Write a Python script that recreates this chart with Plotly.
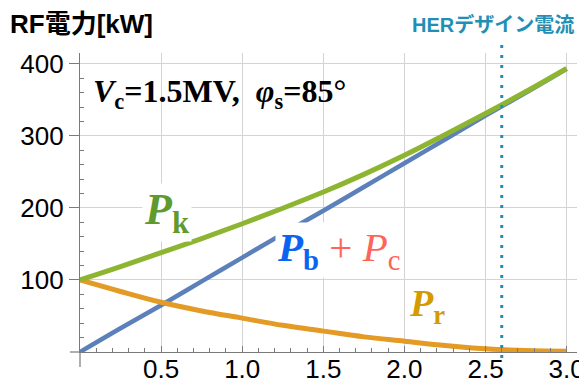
import plotly.graph_objects as go

# Beam current [A]
current = [0, 0.25, 0.5, 0.75, 1.0, 1.25, 1.5, 1.75, 2.0, 2.25, 2.5, 2.75, 3.0]
# P_b + P_c [kW]
p_bc = [0, 33, 65, 98, 131, 164, 196, 229, 262, 295, 328, 360, 393]
# P_r [kW]
p_r = [100, 84, 69, 57, 47, 37, 29, 21, 15, 9, 4.5, 2, 1]
# P_k [kW]
p_k = [100, 118.5, 138, 157.5, 178, 199.5, 222, 246.5, 273, 301.5, 331, 361.5, 393.5]
her_design_current = 2.6

x_ticks = [0.5, 1.0, 1.5, 2.0, 2.5, 3.0]
x_tick_labels = ["0.5", "1.0", "1.5", "2.0", "2.5", "3.0"]
y_ticks = [100, 200, 300, 400]
y_tick_labels = ["100", "200", "300", "400"]

BLUE = "#5b80ba"
ORANGE = "#e39b26"
GREEN = "#8db531"
AXIS = "#7a7a7a"
GRID = "#d3d3d3"
TEAL = "#1f8fb5"

fig = go.Figure()
fig.add_trace(go.Scatter(x=current, y=p_bc, mode="lines", line=dict(color=BLUE, width=4.5, shape="spline")))
fig.add_trace(go.Scatter(x=current, y=p_r, mode="lines", line=dict(color=ORANGE, width=5, shape="spline")))
fig.add_trace(go.Scatter(x=current, y=p_k, mode="lines", line=dict(color=GREEN, width=5, shape="spline")))

OFF = 8  # page body margin
W, H = 587 - OFF, 388 - OFF
L, R, T, B = 80 - OFF, 10, 53 - OFF, 36
pw, ph = W - L - R, H - T - B

def px(xp):
    return (xp - OFF - L) / pw

def py(yp):
    return (H - B - (yp - OFF)) / ph

fig.update_layout(
    width=W, height=H,
    margin=dict(l=L, r=R, t=T, b=B, autoexpand=False),
    paper_bgcolor="white", plot_bgcolor="white",
    showlegend=False,
    font=dict(family="Liberation Sans, Arial, sans-serif", size=25, color="black"),
)
fig.update_xaxes(
    range=[0, 3.064], tickmode="array", tickvals=x_ticks, ticktext=x_tick_labels,
    automargin=False,
    showgrid=True, gridcolor=GRID, gridwidth=1, zeroline=False,
    showline=True, linecolor=AXIS, linewidth=1.2,
    ticks="inside", ticklen=6, tickcolor=AXIS, tickwidth=1.2,
    ticklabelstandoff=-6,
    minor=dict(tickmode="array", tickvals=[i / 10 for i in range(1, 31) if i % 5],
               ticks="inside", ticklen=4, tickcolor=AXIS, showgrid=False),
    tickfont=dict(size=26),
)
fig.update_yaxes(
    range=[0, 415], tickmode="array", tickvals=y_ticks, ticktext=y_tick_labels,
    automargin=False,
    showgrid=True, gridcolor=GRID, gridwidth=1, zeroline=False,
    showline=True, linecolor=AXIS, linewidth=1.2,
    ticks="outside", ticklen=10, tickcolor=AXIS, tickwidth=1.2,
    minor=dict(tickmode="array", tickvals=[i * 20 for i in range(1, 21) if i % 5],
               ticks="inside", ticklen=4, tickcolor=AXIS, showgrid=False),
    tickfont=dict(size=26),
)

# axis extensions beyond the origin
fig.add_shape(type="line", xref="paper", yref="paper", x0=0, x1=0, y0=0, y1=py(367),
              line=dict(color=AXIS, width=1.2))
fig.add_shape(type="line", xref="paper", yref="paper", x0=px(70), x1=0, y0=0, y1=0,
              line=dict(color=AXIS, width=1.2))

# HER design current dotted line
fig.add_shape(type="line", xref="x", yref="paper", x0=her_design_current, x1=her_design_current,
              y0=py(358), y1=py(42), line=dict(color=TEAL, width=3, dash="3px,7px"))

fig.add_annotation(xref="paper", yref="paper", x=px(8), y=py(24), xanchor="left", yanchor="middle",
                   text="<b>RF電力[kW]</b>", showarrow=False,
                   font=dict(family="Liberation Sans, Noto Sans CJK JP", size=26, color="black"))
fig.add_annotation(xref="paper", yref="paper", x=px(493), y=py(24), xanchor="center", yanchor="middle",
                   text="<b>HERデザイン電流</b>", showarrow=False,
                   font=dict(family="Liberation Sans, Noto Sans CJK JP", size=20, color=TEAL))

fig.add_annotation(xref="paper", yref="paper", x=px(91), y=py(93), xanchor="left", yanchor="middle",
                   text="<b><i>V</i><sub>c</sub>=1.5MV,\u00a0\u00a0<i>φ</i><sub>s</sub>=85°</b>",
                   showarrow=False,
                   font=dict(family="Liberation Serif, Times New Roman, serif", size=32, color="black"))

fig.add_annotation(xref="paper", yref="paper", x=px(167), y=py(212), xanchor="center", yanchor="middle",
                   text="<b><i>P</i><sub>k</sub></b>", showarrow=False, bgcolor="white",
                   font=dict(family="Liberation Serif, Times New Roman, serif", size=44, color="#5f9a2e"))
fig.add_annotation(xref="paper", yref="paper", x=px(338), y=py(250), xanchor="center", yanchor="middle",
                   text="<span style='color:#0a64f0'><b><i>P</i><sub>b</sub></b></span>"
                        "<span style='color:#ff6459'> + <i>P</i><sub>c</sub></span>",
                   showarrow=False, bgcolor="white",
                   font=dict(family="Liberation Serif, Times New Roman, serif", size=41, color="#0a64f0"))
fig.add_annotation(xref="paper", yref="paper", x=px(427), y=py(306), xanchor="center", yanchor="middle",
                   text="<b><i>P</i><sub>r</sub></b>", showarrow=False, bgcolor="white",
                   font=dict(family="Liberation Serif, Times New Roman, serif", size=38, color="#d49b00"))

fig.write_html("out.html")
